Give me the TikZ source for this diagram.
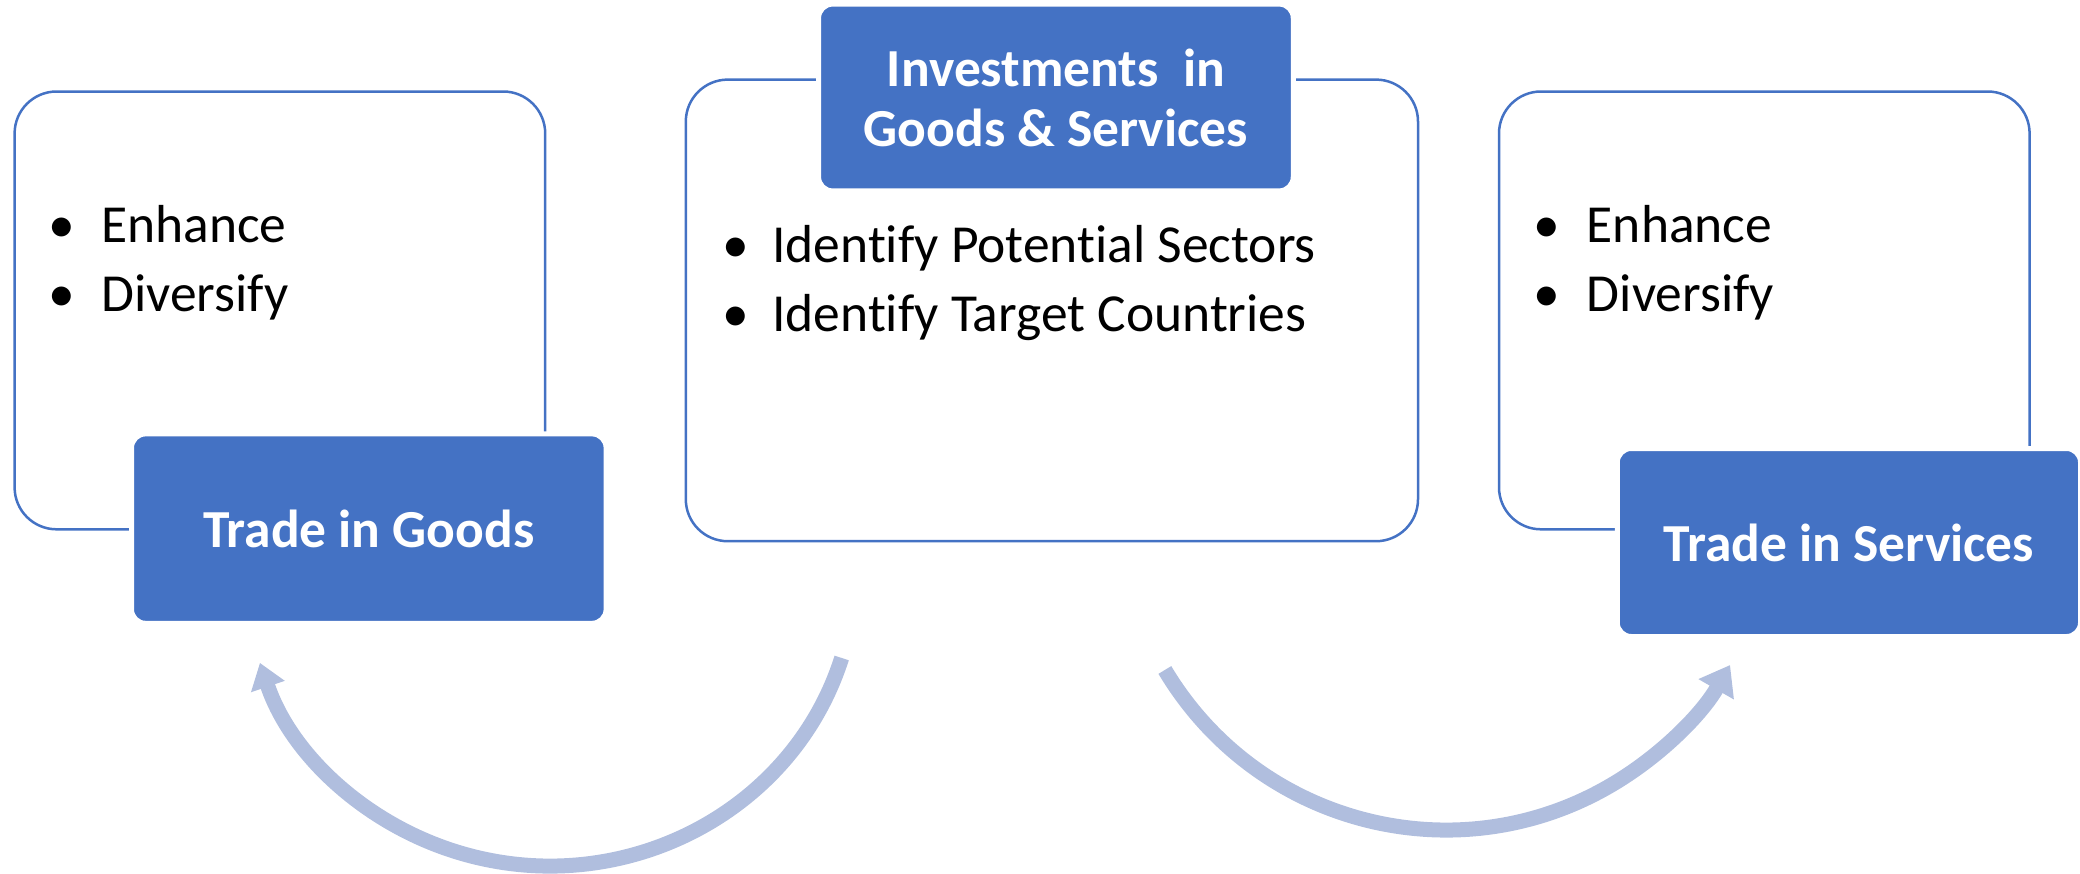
\documentclass[tikz,border=0pt]{standalone}
\usepackage{fontspec}
\setmainfont{Carlito}[Ligatures=NoCommon]
\usetikzlibrary{arrows.meta}
\definecolor{boxblue}{HTML}{4472C4}
\definecolor{arrowblue}{RGB}{176,190,222}
\begin{document}
\begin{tikzpicture}[x=1pt,y=-1pt,
  outline/.style={draw=boxblue, line width=2.5pt, rounded corners=42pt, inner sep=0pt},
  titlebox/.style={fill=boxblue, draw=white, line width=5pt, rounded corners=14pt, text=white,
    font=\fontsize{53.5}{60}\selectfont\bfseries, align=center, inner sep=0pt},
  bullettext/.style={anchor=base west, inner sep=0pt, font=\fontsize{53.5}{69}\selectfont},
  curvearrow/.style={draw=arrowblue, line width=15pt}
]
\useasboundingbox (0,0) rectangle (2080,873);
% outline boxes
\node[outline, minimum width=530.6pt, minimum height=437.8pt] (lbox) at (279.9,310.4) {};
\node[outline, minimum width=732.2pt, minimum height=461.6pt] (mbox) at (1051.9,310.4) {};
\node[outline, minimum width=530.6pt, minimum height=437.8pt] (rbox) at (1764.3,310.4) {};
% title boxes
\node[titlebox, minimum width=474.6pt, minimum height=189.4pt] (tig) at (368.8,528.6) {Trade in Goods};
\node[titlebox, minimum width=474.7pt, minimum height=186.8pt] (inv) at (1055.9,97.5) {Investments~ in\\Goods \& Services};
\node[titlebox, minimum width=463.3pt, minimum height=188pt] (tis) at (1848.9,542.5) {Trade in Services};
% bullet texts
\node[bullettext] (l1) at (62,242) {\makebox[0pt]{\textbullet}\hspace{39pt}Enhance};
\node[bullettext] (l2) at (62,311) {\makebox[0pt]{\textbullet}\hspace{39pt}Diversify};
\node[bullettext] (m1) at (736,262) {\makebox[0pt]{\textbullet}\hspace{36pt}Identify Potential Sectors};
\node[bullettext] (m2) at (736,331) {\makebox[0pt]{\textbullet}\hspace{36pt}Identify Target Countries};
\node[bullettext] (r1) at (1546.7,242) {\makebox[0pt]{\textbullet}\hspace{40pt}Enhance};
\node[bullettext] (r2) at (1546.7,311) {\makebox[0pt]{\textbullet}\hspace{40pt}Diversify};
% arrows (elliptical arcs)
\coordinate (a1s) at ({550+305*cos(17)},{572+294*sin(17)});
\draw[curvearrow, -{Triangle[width=34pt,length=25pt]}] (a1s)
  arc[start angle=-17, end angle=-162, x radius=305pt, y radius=294pt] coordinate (a1e);
\coordinate (a2s) at ({1446+328*cos(149)},{500+330*sin(149)});
\draw[curvearrow, -{Triangle[width=39pt,length=28pt]}] (a2s)
  arc[start angle=-149, end angle=-30, x radius=328pt, y radius=330pt] coordinate (a2e);
\end{tikzpicture}
\end{document}
